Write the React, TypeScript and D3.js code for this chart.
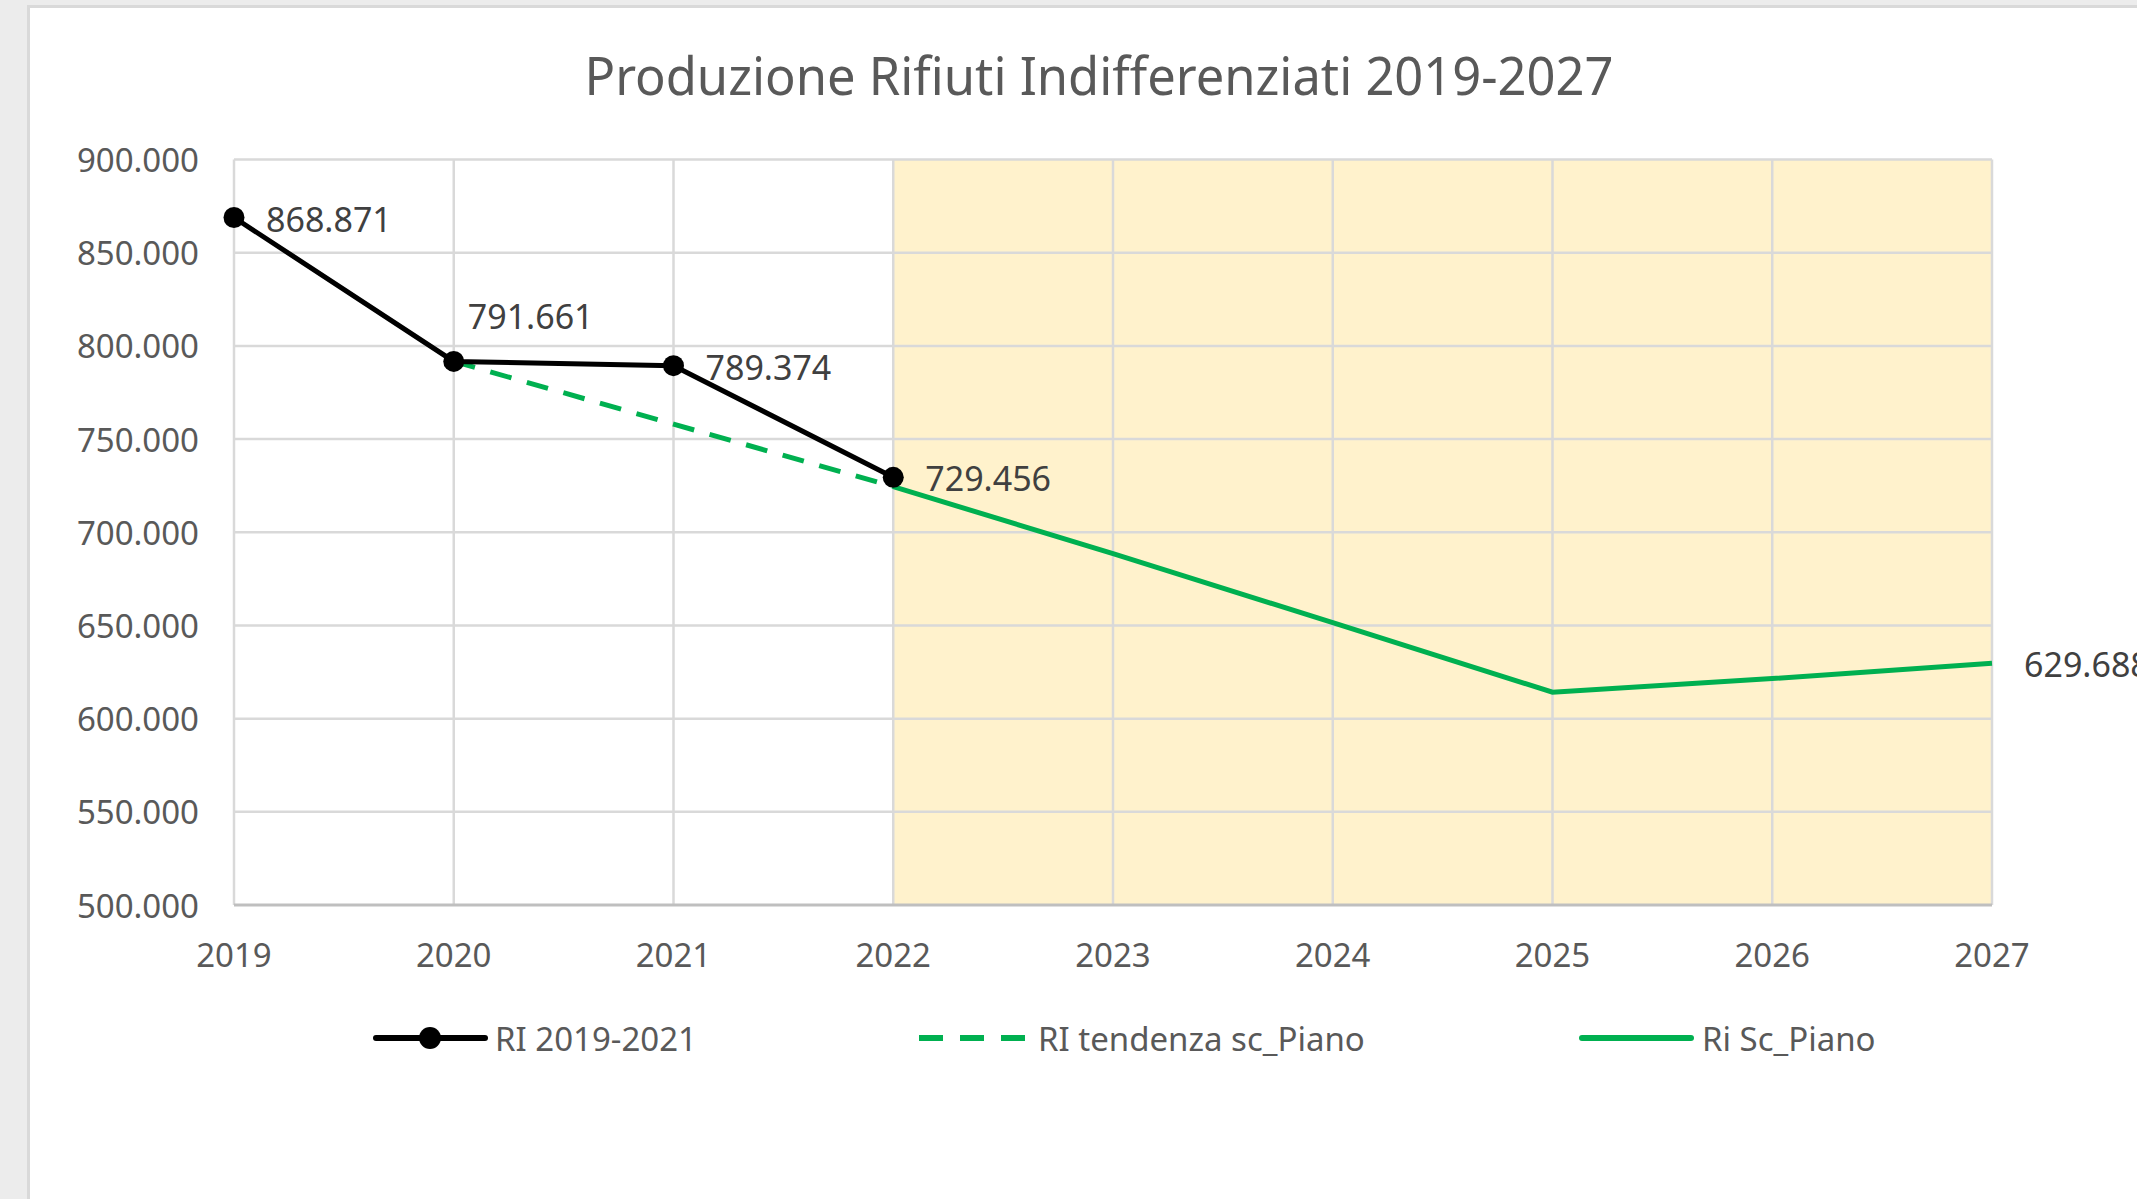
import React from 'react';
import * as d3 from 'd3';

const years = ['2019', '2020', '2021', '2022', '2023', '2024', '2025', '2026', '2027'];
const yTicks = [500000, 550000, 600000, 650000, 700000, 750000, 800000, 850000, 900000];

// series
const riYears = ['2019', '2020', '2021', '2022'];
const riValues = [868871, 791661, 789374, 729456];
const tendYears = ['2020', '2021', '2022'];
const tendValues = [791661, 758000, 724500];
const pianoYears = ['2022', '2023', '2024', '2025', '2026', '2027'];
const pianoValues = [724500, 688500, 651500, 614200, 621500, 629688];

const shadeFrom = '2022';
const shadeTo = '2027';

const W = 2137;
const H = 1199;
const margin = { left: 234, right: 145, top: 159.5, bottom: 294 };

const GREEN = '#00b050';
const FONT = "'Noto Sans', sans-serif";

const fmt = (v: number) => d3.format(',')(v).replace(/,/g, '.');

export default function App() {
  const x = d3.scalePoint<string>()
    .domain(years)
    .range([margin.left, W - margin.right]);
  const y = d3.scaleLinear()
    .domain([500000, 900000])
    .range([H - margin.bottom, margin.top]);

  const x0 = x(years[0]) || 0;
  const x1 = x(years[years.length - 1]) || 0;
  const yTop = y(900000);
  const yBot = y(500000);

  const line = d3.line<[string, number]>()
    .x(d => x(d[0]) || 0)
    .y(d => y(d[1]));

  const ri = riYears.map((yr, i) => [yr, riValues[i]] as [string, number]);
  const tend = tendYears.map((yr, i) => [yr, tendValues[i]] as [string, number]);
  const piano = pianoYears.map((yr, i) => [yr, pianoValues[i]] as [string, number]);

  // data labels: black series + last point of the plan line
  const labels = [
    ...ri.map((d, i) => ({ d, above: i === 1 })),
    { d: piano[piano.length - 1], above: false },
  ];

  const legendY = 1038;

  return (
    <svg width={W} height={H} style={{ position: 'absolute', left: 0, top: 0 }}>
      <rect x={0} y={0} width={W} height={H} fill="#ececec" />
      <rect x={28.5} y={6.5} width={W} height={H} fill="#ffffff" stroke="#d9d9d9" strokeWidth={3} />

      <text x={1099} y={95} textAnchor="middle" fontFamily={FONT} fontSize={52}
        fill="#595959" textLength={1029} lengthAdjust="spacingAndGlyphs">
        Produzione Rifiuti Indifferenziati 2019-2027
      </text>

      {/* projection area */}
      <rect x={x(shadeFrom)} y={yTop} width={(x(shadeTo) || 0) - (x(shadeFrom) || 0)}
        height={yBot - yTop} fill="#fff2cc" />

      {/* grid */}
      {yTicks.slice(1).map(t => (
        <line key={'h' + t} x1={x0} x2={x1} y1={y(t)} y2={y(t)} stroke="#d9d9d9" strokeWidth={2.5} />
      ))}
      {years.map(yr => (
        <line key={'v' + yr} x1={x(yr)} x2={x(yr)} y1={yTop} y2={yBot} stroke="#d9d9d9" strokeWidth={2.5} />
      ))}
      <line x1={x0} x2={x1} y1={yBot} y2={yBot} stroke="#bfbfbf" strokeWidth={3} />

      {/* y tick labels */}
      {yTicks.map(t => (
        <text key={'yl' + t} x={199} y={y(t)} textAnchor="end" dominantBaseline="central"
          fontFamily={FONT} fontSize={33} fill="#595959">{fmt(t)}</text>
      ))}
      {/* x tick labels */}
      {years.map(yr => (
        <text key={'xl' + yr} x={x(yr)} y={954} textAnchor="middle" dominantBaseline="central"
          fontFamily={FONT} fontSize={33} fill="#595959">{yr}</text>
      ))}

      {/* series */}
      <path d={line(tend) || ''} fill="none" stroke={GREEN} strokeWidth={5} strokeDasharray="22,16" />
      <path d={line(piano) || ''} fill="none" stroke={GREEN} strokeWidth={5} />
      <path d={line(ri) || ''} fill="none" stroke="#000000" strokeWidth={5} />
      {ri.map(d => (
        <circle key={'m' + d[0]} cx={x(d[0])} cy={y(d[1])} r={10.5} fill="#000000" />
      ))}

      {labels.map(({ d, above }) => (
        <text key={'dl' + d[0]}
          x={(x(d[0]) || 0) + (above ? 14 : 32)}
          y={y(d[1]) + (above ? -45 : 1)}
          dominantBaseline="central" fontFamily={FONT} fontSize={34} fill="#404040">
          {fmt(d[1])}
        </text>
      ))}

      {/* legend */}
      <g>
        <line x1={376} x2={485} y1={legendY} y2={legendY} stroke="#000000" strokeWidth={6} strokeLinecap="round" />
        <circle cx={430} cy={legendY} r={11} fill="#000000" />
        <text x={495} y={legendY} dominantBaseline="central" fontFamily={FONT} fontSize={33} fill="#595959">RI 2019-2021</text>

        <line x1={919} x2={1025} y1={legendY} y2={legendY} stroke={GREEN} strokeWidth={6} strokeDasharray="24,17" />
        <text x={1038} y={legendY} dominantBaseline="central" fontFamily={FONT} fontSize={33} fill="#595959">RI tendenza sc_Piano</text>

        <line x1={1582} x2={1691} y1={legendY} y2={legendY} stroke={GREEN} strokeWidth={6} strokeLinecap="round" />
        <text x={1702} y={legendY} dominantBaseline="central" fontFamily={FONT} fontSize={33} fill="#595959">Ri Sc_Piano</text>
      </g>
    </svg>
  );
}
